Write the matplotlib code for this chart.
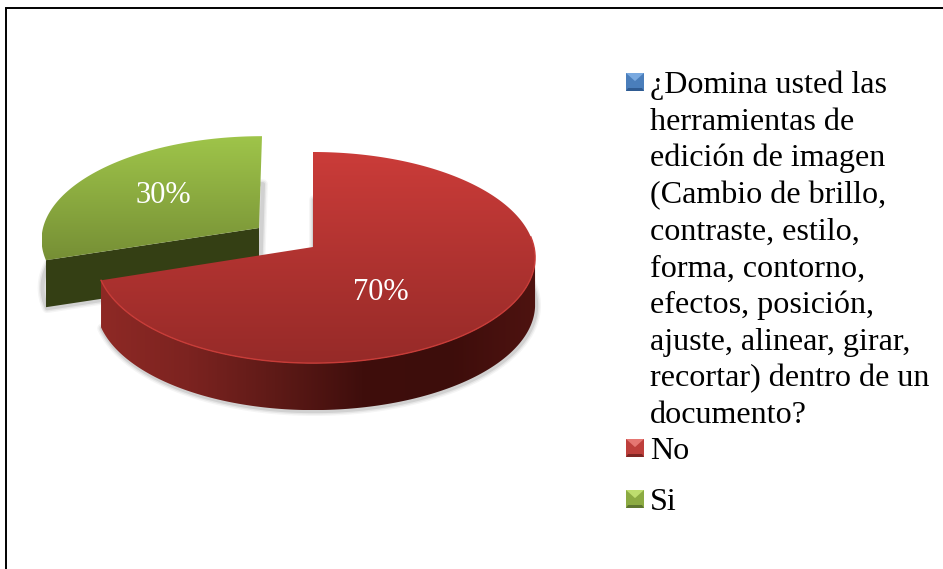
import numpy as np
import matplotlib
matplotlib.use("Agg")
import matplotlib.pyplot as plt
from matplotlib.colors import LinearSegmentedColormap as LSC
from matplotlib.patches import Polygon, Rectangle

# data
legend_lines = [["¿Domina usted las", "herramientas de", "edición de imagen", "(Cambio de brillo,", "contraste, estilo,",
                 "forma, contorno,", "efectos, posición,", "ajuste, alinear, girar,", "recortar) dentro de un", "documento?"],
                ["No"], ["Si"]]
slice_names = ["No", "Si"]
slice_values = [70, 30]

plt.rcParams["font.family"] = ["Liberation Serif", "DejaVu Serif"]
W, H = 943, 569
fig = plt.figure(figsize=(W / 100, H / 100), dpi=100, facecolor="white")
ax = fig.add_axes([0, 0, 1, 1])
ax.set_axis_off()

A_RIGHT, A_LEFT, K, DEPTH = 221, 216, 0.10, 47
centers = {"No": (313, 247), "Si": (259, 228)}
heights = {"No": 104.5, "Si": 101}
shears = {"No": 0, "Si": 3.3}
top_cols = {"No": ("#CB3C39", "#962A28"), "Si": ("#9FC54A", "#768F35")}
label_pos = {"No": (381, 292), "Si": (163, 195)}
FS_LABEL, FS_LEGEND = 22, 23.15


def rim(theta, name):
    c = centers[name]
    u, v = np.sin(theta), np.cos(theta)
    w = 1 + K * v
    a = np.where(u < 0, A_LEFT, A_RIGHT)
    return np.column_stack([c[0] + (a * u + shears[name] * v) / w, c[1] - heights[name] * v / w])


def gradient(poly, cols, horizontal=False, z=2):
    cm = LSC.from_list("g", cols)
    arr = np.linspace(0, 1, 256)
    arr = arr[None, :] if horizontal else arr[:, None]
    x0, y0 = poly.min(axis=0)
    x1, y1 = poly.max(axis=0)
    im = ax.imshow(arr, cmap=cm, extent=(x0, x1, y1, y0), aspect="auto", zorder=z, interpolation="bilinear")
    p = Polygon(poly, closed=True, transform=ax.transData, fc="none", ec="none")
    ax.add_patch(p)
    im.set_clip_path(p)


fractions = np.array(slice_values, dtype=float) / sum(slice_values)
ends = np.cumsum(fractions) * 2 * np.pi
starts = ends - fractions * 2 * np.pi
z = 1
# draw the exploded green slice first, then the red one above it
for name, t0, t1 in sorted(zip(slice_names, starts, ends), key=lambda r: r[0] != "Si"):
    c = centers[name]
    th = np.linspace(t0, t1, 240)
    arc = rim(th, name)
    top = np.vstack([[c], arc])
    low = top + [0, DEPTH]
    # soft shadow
    for lw, al in ((7, .06), (5, .09), (3, .14)):
        ax.add_patch(Polygon(low + [1, 1], closed=True, fc="none", ec="#555555", lw=lw, alpha=al, zorder=z,
                             joinstyle="round"))
    if name == "No":
        vis = th[(th > np.radians(96)) & (th <= t1)]
        a2 = rim(vis, name)
        side = np.vstack([a2, (a2 + [0, DEPTH])[::-1]])
        gradient(side, ["#8E2925", "#7C2320", "#5E1A17", "#3F0E0C", "#3D0D0B", "#4E1310"], True, z + 1)
    else:
        corner = arc[0]
        face = np.array([c, corner, corner + [0, DEPTH], np.array(c) + [0, DEPTH]])
        ax.add_patch(Polygon(face, closed=True, fc="#343F14", ec="none", zorder=z + 1))
    gradient(top, list(top_cols[name]), False, z + 2)
    if name == "No":
        ax.plot(arc[80:, 0], arc[80:, 1], color="#C83C38", lw=1, zorder=z + 3)
    ax.text(*label_pos[name], f"{slice_values[slice_names.index(name)]}%", color="white", fontsize=FS_LABEL,
            ha="center", va="center", zorder=20)
    z += 5

# frame: left and top only, the rest is cropped away
ax.plot([6, 6], [H + 5, 8], color="black", lw=1.4, zorder=30, solid_capstyle="butt")
ax.plot([6, W + 5], [8, 8], color="black", lw=1.4, zorder=30, solid_capstyle="projecting")

# legend
legend_cols = [("#79A9E0", "#4A7EBB", "#2F5B92"), ("#E57672", "#BE3F3C", "#7E2624"), ("#BEDD6E", "#8CAB42", "#5E7630")]
baselines = [93, 459, 510]
S = 18
for lines, cols, base in zip(legend_lines, legend_cols, baselines):
    x0, y0 = 626, base - 20
    ax.add_patch(Rectangle((x0, y0), S, S, fc=cols[1], ec="none", zorder=10))
    ax.add_patch(Polygon([(x0, y0), (x0 + S, y0), (x0 + S / 2, y0 + S * .45)], fc=cols[0], ec="none", zorder=11))
    ax.add_patch(Polygon([(x0, y0 + S), (x0 + S, y0 + S), (x0 + S - 2, y0 + S - 3), (x0 + 2, y0 + S - 3)],
                         fc=cols[2], ec="none", zorder=11))
    for i, line in enumerate(lines):
        ax.text(650, base + i * 36.67, line, fontsize=FS_LEGEND, color="black", ha="left", va="baseline", zorder=12)

ax.set_xlim(0, W)
ax.set_ylim(H, 0)
fig.savefig("out.png", dpi=100, facecolor="white")
